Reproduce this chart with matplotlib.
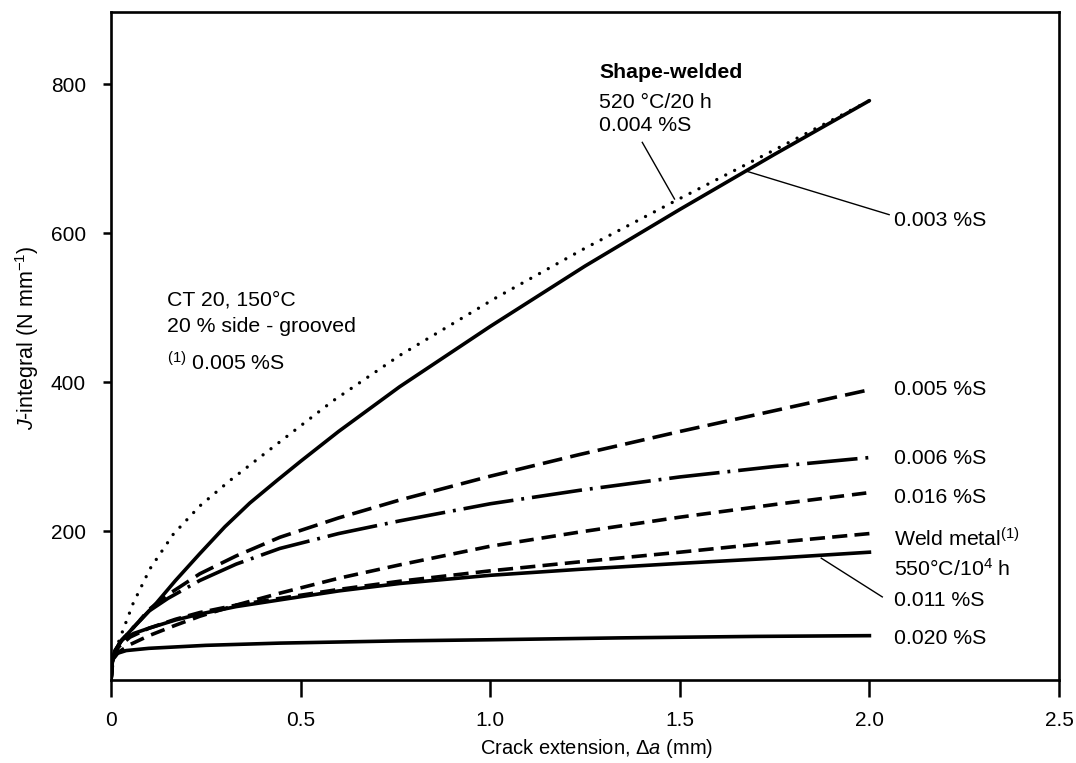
import matplotlib
matplotlib.use("Agg")
import matplotlib.pyplot as plt

plt.rcParams['font.family'] = ['Liberation Sans', 'DejaVu Sans']
plt.rcParams['mathtext.fontset'] = 'custom'
plt.rcParams['mathtext.rm'] = 'Liberation Sans'
plt.rcParams['mathtext.it'] = 'Liberation Sans:italic'
plt.rcParams['mathtext.bf'] = 'Liberation Sans:bold'

# ---- data ----
# 0.003 %S (solid, shape-welded)
x_s003 = [0, 0.003, 0.01, 0.025, 0.05, 0.08, 0.12, 0.17, 0.234, 0.3, 0.366, 0.437,
          0.5, 0.6, 0.761, 1.0, 1.25, 1.5, 1.75, 2.0]
j_s003 = [0, 25, 38, 52, 66, 82, 104, 134, 170, 206, 238, 268,
          294, 334, 394, 475, 556, 632, 706, 778]

# 0.004 %S (dotted, shape-welded 520 C / 20 h)
x_s004 = [0, 0.005, 0.015, 0.032, 0.058, 0.103, 0.164, 0.234, 0.313, 0.45, 0.585,
          0.761, 1.017, 1.25, 1.49, 1.75, 2.0]
j_s004 = [0, 30, 45, 68, 103, 150, 196, 234, 268, 322, 375,
          436, 514, 580, 644, 712, 778]

# 0.005 %S (long dashes)
x_s005 = [0, 0.003, 0.01, 0.025, 0.05, 0.075, 0.1, 0.15, 0.234, 0.33, 0.445, 0.6,
          0.761, 1.0, 1.235, 1.5, 1.75, 2.0]
j_s005 = [0, 25, 38, 52, 66, 80, 95, 115, 143, 167, 192, 218,
          242, 274, 303, 334, 362, 390]

# 0.006 %S (dash-dot)
x_s006 = [0, 0.003, 0.01, 0.025, 0.05, 0.075, 0.1, 0.15, 0.234, 0.33, 0.445, 0.6,
          0.761, 1.0, 1.235, 1.5, 1.75, 2.0]
j_s006 = [0, 25, 38, 52, 66, 80, 93, 110, 134, 156, 177, 197,
          214, 237, 255, 273, 287, 299]

# 0.016 %S (short dashes)
x_s016 = [0, 0.005, 0.02, 0.05, 0.1, 0.17, 0.234, 0.33, 0.445, 0.6, 0.761, 1.0,
          1.235, 1.5, 1.75, 2.0]
j_s016 = [0, 28, 38, 48, 60, 74, 86, 101, 117, 137, 155, 180,
          199, 219, 236, 252]

# Weld metal 550 C / 10^4 h (short dashes)
x_weld = [0, 0.005, 0.02, 0.05, 0.1, 0.17, 0.234, 0.33, 0.445, 0.6, 0.761, 1.0,
          1.235, 1.5, 1.75, 2.0]
j_weld = [0, 30, 45, 58, 70, 82, 91, 101, 110, 122, 133, 147,
          159, 172, 185, 197]

# 0.011 %S (solid)
x_s011 = [0, 0.003, 0.01, 0.03, 0.06, 0.1, 0.17, 0.234, 0.33, 0.445, 0.6, 0.761,
          1.0, 1.235, 1.5, 1.75, 2.0]
j_s011 = [0, 25, 40, 55, 63, 70, 81, 89, 99, 108, 120, 130,
          141, 149, 157, 164, 172]

# 0.020 %S (solid)
x_s020 = [0, 0.002, 0.006, 0.015, 0.04, 0.1, 0.25, 0.445, 0.761, 1.0, 1.34, 1.7, 2.0]
j_s020 = [0, 20, 30, 36, 40, 43, 47, 50, 53, 54.5, 57, 59, 60]

x_ticks = [0, 0.5, 1.0, 1.5, 2.0, 2.5]
x_ticklabels = ['0', '0.5', '1.0', '1.5', '2.0', '2.5']
y_ticks = [200, 400, 600, 800]
y_ticklabels = ['200', '400', '600', '800']

fig = plt.figure(figsize=(10.76, 7.63), dpi=100)
ax = fig.add_axes([0.1032, 0.1083, 0.881, 0.876])

lw = 2.6
ax.plot(x_s003, j_s003, color='black', lw=lw, solid_capstyle='round', solid_joinstyle='round')
ax.plot(x_s004, j_s004, color='black', lw=2.4, linestyle=(0, (0.01, 3.0)), dash_capstyle='round')
ax.plot(x_s005, j_s005, color='black', lw=lw, linestyle=(0, (5.5, 2.3)))
ax.plot(x_s006, j_s006, color='black', lw=lw, linestyle=(0, (14, 2.2, 0.8, 2.2)))
ax.plot(x_s016, j_s016, color='black', lw=lw, linestyle=(0, (4.0, 2.2)))
ax.plot(x_weld, j_weld, color='black', lw=lw, linestyle=(0, (4.2, 2.0)))
ax.plot(x_s011, j_s011, color='black', lw=lw, solid_joinstyle='round')
ax.plot(x_s020, j_s020, color='black', lw=lw, solid_joinstyle='round')

ax.set_xlim(0, 2.5)
ax.set_ylim(0, 897)
ax.set_xticks(x_ticks)
ax.set_xticklabels(x_ticklabels)
ax.set_yticks(y_ticks)
ax.set_yticklabels(y_ticklabels)
ax.tick_params(axis='x', direction='out', length=12, width=1.8, pad=10, labelsize=15)
ax.tick_params(axis='y', direction='out', length=6, width=1.8, pad=12, labelsize=15)
for sp in ax.spines.values():
    sp.set_linewidth(1.9)

fs = 15.3
# Annotations
ax.text(1.287, 816, 'Shape-welded', fontsize=fs, fontweight='bold', va='center', ha='left')
ax.text(1.287, 776, '520 °C/20 h', fontsize=fs, va='center', ha='left')
ax.text(1.287, 744, '0.004 %S', fontsize=fs, va='center', ha='left')
ax.plot([1.401, 1.486], [722, 646], color='black', lw=1.0)

ax.text(2.065, 617, '0.003 %S', fontsize=fs, va='center', ha='left')
ax.plot([1.678, 2.052], [683, 625], color='black', lw=1.0)

ax.text(2.065, 390, '0.005 %S', fontsize=fs, va='center', ha='left')
ax.text(2.065, 298, '0.006 %S', fontsize=fs, va='center', ha='left')
ax.text(2.065, 245, '0.016 %S', fontsize=fs, va='center', ha='left')
ax.text(2.065, 190, 'Weld metal$^{\\mathrm{(1)}}$', fontsize=fs, va='center', ha='left')
ax.text(2.065, 150, '550°C/10$^{\\mathrm{4}}$ h', fontsize=fs, va='center', ha='left')
ax.text(2.065, 107, '0.011 %S', fontsize=fs, va='center', ha='left')
ax.text(2.065, 56, '0.020 %S', fontsize=fs, va='center', ha='left')
ax.plot([1.873, 2.034], [164, 112], color='black', lw=1.0)

ax.text(0.147, 510, 'CT 20, 150°C', fontsize=fs, va='center', ha='left')
ax.text(0.147, 475, '20 % side - grooved', fontsize=fs, va='center', ha='left')
ax.text(0.147, 426, '$^{\\mathrm{(1)}}$ 0.005 %S', fontsize=fs, va='center', ha='left')

fig.text(27 / 1076, 1 - 338 / 763, '$J$-integral (N mm$^{-1}$)', rotation=90,
         fontsize=15.5, ha='center', va='center')
fig.text(597 / 1076, 1 - 748 / 763, 'Crack extension, $\\Delta a$ (mm)',
         fontsize=14.5, ha='center', va='center')

fig.savefig('out.png', dpi=100)
